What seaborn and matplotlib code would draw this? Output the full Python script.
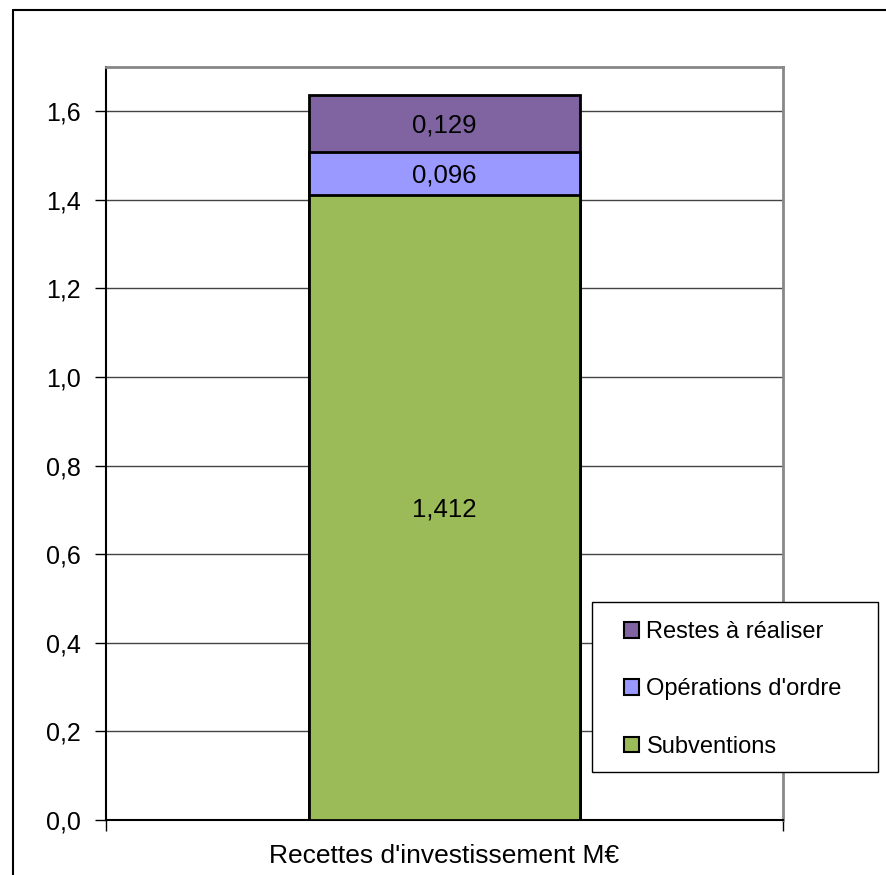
import matplotlib
matplotlib.use("Agg")
import matplotlib.pyplot as plt
from matplotlib.lines import Line2D
from matplotlib.patches import Patch, Rectangle
import seaborn as sns
import pandas as pd

category = "Recettes d'investissement M€"
series = ["Subventions", "Opérations d'ordre", "Restes à réaliser"]
values = [1.412, 0.096, 0.129]
colors = ["#9BBB59", "#9999FF", "#8064A2"]
yticks = [0.0, 0.2, 0.4, 0.6, 0.8, 1.0, 1.2, 1.4, 1.6]

sns.set_style("white")
plt.rcParams["font.family"] = ["Liberation Sans", "DejaVu Sans"]
plt.rcParams["text.color"] = "black"
plt.rcParams["xtick.color"] = "black"
plt.rcParams["ytick.color"] = "black"
plt.rcParams["axes.labelcolor"] = "black"

fig = plt.figure(figsize=(8.86, 8.75), dpi=100)
ax = fig.add_axes([106 / 886, 1 - 820 / 875, 677 / 886, 753 / 875])

# stacked bar: draw cumulative totals from the top down
tops = pd.Series(values).cumsum().tolist()
for name, top, col in reversed(list(zip(series, tops, colors))):
    df = pd.DataFrame({"cat": [category], "val": [top]})
    sns.barplot(data=df, x="cat", y="val", color=col, width=0.4,
                edgecolor="black", linewidth=2, saturation=1, ax=ax, zorder=3)

bottoms = [0] + tops[:-1]
for v, b in zip(values, bottoms):
    ax.text(0, b + v / 2, f"{v:.3f}".replace(".", ","), ha="center",
            va="center_baseline", fontsize=18.5, color="black", zorder=4)

ax.set_xlim(-0.5, 0.5)
ax.set_ylim(0, 1.7)
ax.set_yticks(yticks)
ax.set_yticklabels([f"{t:.1f}".replace(".", ",") for t in yticks], fontsize=18)
ax.set_xticks([-0.5, 0.5])
ax.set_xticklabels(["", ""])
ax.set_xlabel(category, fontsize=19, labelpad=6)
ax.set_ylabel("")
ax.tick_params(axis="both", direction="out", length=8, width=1, color="black",
               left=True, bottom=True)
ax.tick_params(axis="y", pad=10)
ax.grid(axis="y", color="#444444", linewidth=1, zorder=0)
ax.grid(axis="x", visible=False)

for s in ["left", "bottom"]:
    ax.spines[s].set_color("black")
    ax.spines[s].set_linewidth(1.5)
for s in ["top", "right"]:
    ax.spines[s].set_color("#888888")
    ax.spines[s].set_linewidth(2)

# legend box (frame drawn separately so the entries can be indented)
fig.add_artist(Rectangle((592 / 886, 1 - 772 / 875), 286 / 886, 170 / 875,
                         transform=fig.transFigure, facecolor="white",
                         edgecolor="black", linewidth=1, zorder=5))
handles = [Patch(facecolor=c, edgecolor="black", linewidth=1.5, label=n)
           for n, c in zip(series, colors)][::-1]
leg = fig.legend(handles=handles, loc="upper left",
                 bbox_to_anchor=(624 / 886, 1 - 621 / 875),
                 fontsize=17, frameon=False,
                 handlelength=0.65, handleheight=0.65,
                 handletextpad=0.3, labelspacing=1.5, borderpad=0,
                 borderaxespad=0)
leg.set_zorder(6)

# outer chart frame
fig.add_artist(Line2D([13 / 886, 13 / 886], [0, 1 - 10 / 875], color="black",
                      linewidth=1.5, transform=fig.transFigure))
fig.add_artist(Line2D([13 / 886, 1], [1 - 10 / 875, 1 - 10 / 875], color="black",
                      linewidth=1.5, transform=fig.transFigure))

fig.savefig("out.png", dpi=100)
